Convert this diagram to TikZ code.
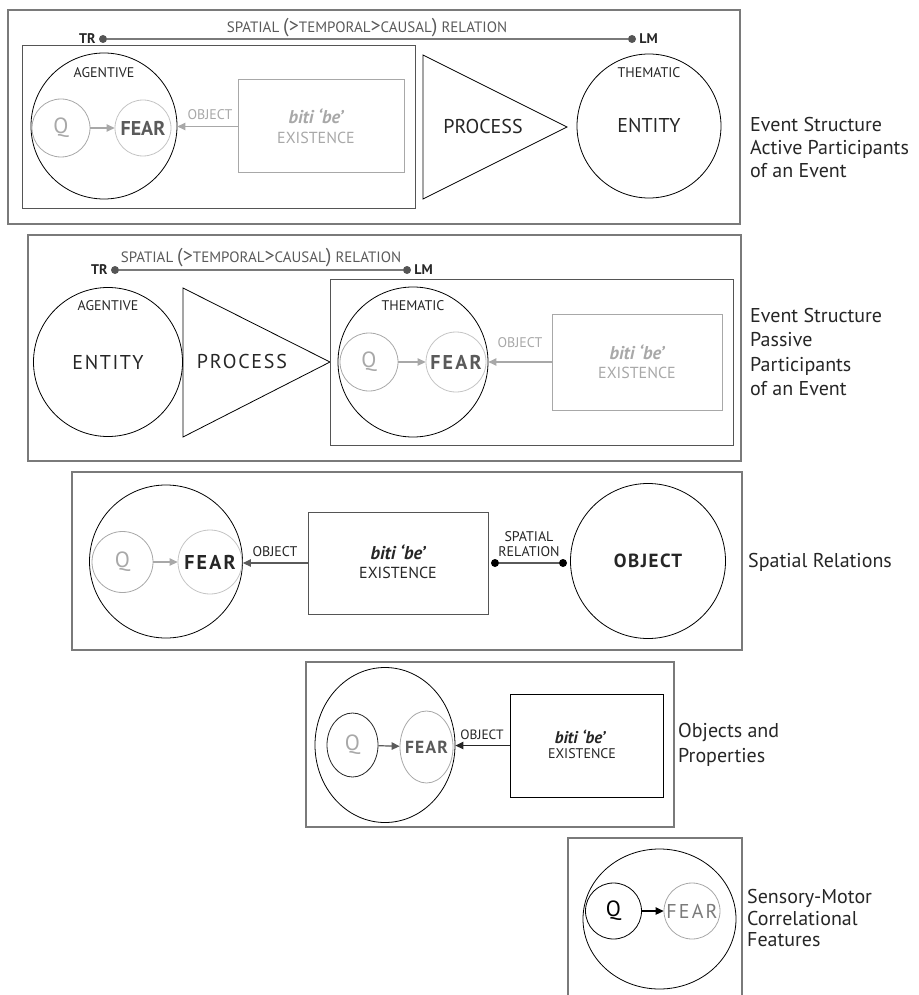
\documentclass[tikz,border=0pt]{standalone}
\usepackage{fontspec}
\setmainfont{PT Sans}
\usetikzlibrary{arrows.meta,shapes.geometric}

\definecolor{framecol}{HTML}{7A7A7A}
\definecolor{inboxcol}{HTML}{555555}
\definecolor{ink}{HTML}{262626}
\definecolor{pale}{HTML}{A8A8A8}
\definecolor{paler}{HTML}{C4C4C4}
\definecolor{mid}{HTML}{5A5A5A}
\definecolor{dotcol}{HTML}{555555}

\newcommand\fsside{\fontsize{20}{23}\selectfont}
\newcommand\fsbig{\fontsize{20}{24}\selectfont}
\newcommand\fsq{\fontsize{22}{24}\selectfont}
\newcommand\fsbiti{\fontsize{18.5}{22}\selectfont\bfseries\itshape}
\newcommand\fsexist{\fontsize{16}{19}\selectfont}
\newcommand\fssmall{\fontsize{14}{17}\selectfont}
\newcommand\fsrel{\fontsize{15}{17}\selectfont}
\newcommand\spaced{\addfontfeatures{LetterSpace=11}}
\newcommand\bigp[1]{{\fontsize{20}{17}\selectfont #1}}
\newcommand\relation{SPATIAL \bigp{(}\bigp{>}TEMPORAL\bigp{>}CAUSAL\bigp{)} RELATION}

\tikzset{
  frame/.style={draw=framecol, line width=1.1pt},
  inbox/.style={draw=inboxcol, line width=1pt},
  ring/.style={circle, draw=black, line width=0.8pt, inner sep=0pt},
  oval/.style={ellipse, draw=black, line width=0.8pt, inner sep=0pt},
  txt/.style={inner sep=0pt, text=ink},
  side/.style={inner sep=0pt, text=ink, align=left, anchor=west},
  dotmark/.style={circle, fill=dotcol, inner sep=0pt, minimum size=8pt},
  bdot/.style={circle, fill=black, inner sep=0pt, minimum size=8pt},
  relline/.style={draw=framecol, line width=1.2pt},
  arr/.style={-{Triangle[length=8pt,width=7.5pt]}, line width=1.2pt},
  tri/.style={draw=black, line width=0.8pt, line join=miter},
}

\begin{document}
\begin{tikzpicture}[x=1pt, y=-1pt]
\useasboundingbox (0,0) rectangle (918,995);

% ---------------- Active participants ----------------
\draw[frame] (8,10) rectangle (740,224);
\node[txt, text=mid, font=\fsrel] (rel1) at (367,28) {\relation};
\node[dotmark] (tr1) at (103,39) {};
\node[dotmark] (lm1) at (632,39) {};
\draw[relline] (tr1) -- (lm1);
\node[txt, font=\fssmall\bfseries, anchor=east] (trl1) at ([xshift=-3pt]tr1.west) {TR};
\node[txt, font=\fssmall\bfseries, anchor=west] (lml1) at ([xshift=3pt]lm1.east) {LM};

\draw[inbox] (22,46) rectangle (415,208);
\node[ring, minimum size=146pt] (ag1) at (104,126) {};
\node[txt, font=\fssmall] (agl1) at (104,73) {AGENTIVE};
\node[ring, draw=pale, minimum size=58pt,
  label={[txt, text=pale, font=\fsq]center:Q}] (q1) at (61,128) {};
\node[ring, draw=paler, minimum size=56pt,
  label={[txt, text=mid, font=\fsbig\bfseries]center:FEAR}] (f1) at (143,128) {};
\draw[arr, draw=pale, fill=pale] (q1) -- (f1);
\node[draw=pale, line width=1pt, minimum width=166pt, minimum height=93pt, inner sep=0pt] (b1) at (321,126.5) {};
\node[txt, text=pale, font=\fsbiti] (bt1) at (316,116) {biti ‘be’};
\node[txt, text=pale, font=\fsexist] (be1) at (316,138) {EXISTENCE};
\node[txt, text=pale, font=\fssmall] (ob1) at (210,115) {OBJECT};
\draw[arr, draw=pale, fill=pale] (b1.west) -- (b1.west -| ag1.east);

\coordinate (p1a) at (423,55);
\coordinate (p1b) at (423,199);
\coordinate (p1c) at (567,127);
\draw[tri] (p1a) -- (p1c) -- (p1b) -- cycle;
\node[txt, font=\fsbig] (pr1) at (483,127) {PROCESS};
\node[ring, minimum size=144pt, font=\fsbig, text=ink] (th1) at (649,126) {ENTITY};
\node[txt, font=\fssmall] (thl1) at (649,73) {THEMATIC};
\node[side, font=\fsside] (s1) at (750,148) {Event Structure\\Active Participants\\of an Event};

% ---------------- Passive participants ----------------
\draw[frame] (28,235) rectangle (741,461);
\node[txt, text=mid, font=\fsrel] (rel2) at (261,258) {\relation};
\node[dotmark] (tr2) at (115,270) {};
\node[dotmark] (lm2) at (407,270) {};
\draw[relline] (tr2) -- (lm2);
\node[txt, font=\fssmall\bfseries, anchor=east] (trl2) at ([xshift=-3pt]tr2.west) {TR};
\node[txt, font=\fssmall\bfseries, anchor=west] (lml2) at ([xshift=3pt]lm2.east) {LM};

\node[ring, minimum size=149pt, font=\fsbig\addfontfeatures{LetterSpace=8}, text=ink] (ag2) at (108,362) {ENTITY};
\node[txt, font=\fssmall] (agl2) at (108,306) {AGENTIVE};
\coordinate (p2a) at (183,288);
\coordinate (p2b) at (183,437);
\coordinate (p2c) at (330,362);
\draw[tri] (p2a) -- (p2c) -- (p2b) -- cycle;
\node[txt, font=\fsbig\addfontfeatures{LetterSpace=9}] (pr2) at (242,361) {PROCESS};

\draw[inbox] (330,279) rectangle (733,445);
\node[ring, minimum size=150pt] (th2) at (413,362) {};
\node[txt, font=\fssmall] (thl2) at (413,306) {THEMATIC};
\node[ring, draw=pale, minimum size=58pt,
  label={[txt, text=pale, font=\fsq]center:Q}] (q2) at (369,362) {};
\node[ring, draw=paler, minimum size=60pt,
  label={[txt, text=mid, font=\fsbig\bfseries\spaced]center:FEAR}] (f2) at (456,362) {};
\draw[arr, draw=pale, fill=pale] (q2) -- (f2);
\node[draw=pale, line width=1pt, minimum width=170pt, minimum height=96pt, inner sep=0pt] (b2) at (637,362) {};
\node[txt, text=pale, font=\fsbiti] (bt2) at (637,352) {biti ‘be’};
\node[txt, text=pale, font=\fsexist] (be2) at (637,373) {EXISTENCE};
\node[txt, text=pale, font=\fssmall] (ob2) at (520,343) {OBJECT};
\draw[arr, draw=pale, fill=pale] (b2.west) -- (b2.west -| th2.east);
\node[side, font=\fontsize{20}{24.5}\selectfont] (s2) at (750,352) {Event Structure\\Passive\\Participants\\of an Event};

% ---------------- Spatial relations ----------------
\draw[frame] (72,472) rectangle (742,650);
\node[ring, minimum size=153pt] (c3) at (166,561.5) {};
\node[ring, draw=pale, minimum size=61pt,
  label={[txt, text=pale, font=\fsq]center:Q}] (q3) at (122.5,562) {};
\node[ring, draw=paler, minimum size=64pt,
  label={[txt, text=ink, font=\fsbig\bfseries\spaced]center:FEAR}] (f3) at (210,562) {};
\draw[arr, draw=pale, fill=pale] (q3) -- (f3);
\node[draw=inboxcol, line width=1pt, minimum width=180pt, minimum height=102pt, inner sep=0pt] (b3) at (398,563) {};
\node[txt, font=\fsbiti] (bt3) at (398,552) {biti ‘be’};
\node[txt, font=\fsexist] (be3) at (398,573) {EXISTENCE};
\node[txt, font=\fssmall] (ob3) at (275,552) {OBJECT};
\draw[arr, draw=mid, fill=mid] (b3.west) -- (b3.west -| c3.east);
\node[bdot] (sd1) at (495,563) {};
\node[bdot] (sd2) at (563,563) {};
\draw[draw=mid, line width=1.4pt] (sd1) -- (sd2);
\node[txt, font=\fssmall, align=center] (sr3) at (529,544) {SPATIAL\\[-2pt]RELATION};
\node[ring, minimum size=155pt, font=\fontsize{19}{24}\selectfont\bfseries\addfontfeatures{LetterSpace=8}, text=ink] (o3) at (648,561) {OBJECT};
\node[side, font=\fsside] (s3) at (748,562) {Spatial Relations};

% ---------------- Objects and properties ----------------
\draw[frame] (306,662) rectangle (674,827);
\node[oval, minimum width=140pt, minimum height=155pt] (e4) at (385,745) {};
\node[oval, draw=ink, minimum width=51pt, minimum height=64pt,
  label={[txt, text=pale, font=\fsq]center:Q}] (q4) at (352.5,745) {};
\node[oval, draw=pale, minimum width=53pt, minimum height=72pt,
  label={[txt, text=mid, font=\fontsize{17.5}{20}\selectfont\bfseries\addfontfeatures{LetterSpace=7}]center:FEAR}] (f4) at (426.5,747) {};
\draw[arr, draw=mid, fill=mid] (q4) -- (f4);
\node[draw=black, line width=1pt, minimum width=153pt, minimum height=103pt, inner sep=0pt] (b4) at (586.5,745.5) {};
\node[txt, font=\fontsize{17}{20}\selectfont\bfseries\itshape] (bt4) at (580,737) {biti ‘be’};
\node[txt, font=\fontsize{14}{17}\selectfont] (be4) at (582,754) {EXISTENCE};
\node[txt, font=\fontsize{13.5}{16}\selectfont] (ob4) at (482,735) {OBJECT};
\draw[arr, draw=ink, fill=ink] (b4.west) -- (b4.west -| e4.east);
\node[side, font=\fontsize{20}{25}\selectfont] (s4) at (678,745) {Objects and\\Properties};

% ---------------- Sensory-motor features ----------------
\draw[frame] (568,995) -- (568,838) -- (742,838) -- (742,995);
\node[oval, minimum width=153pt, minimum height=140pt] (e5) at (659.5,919) {};
\node[ring, minimum size=56pt,
  label={[txt, text=black, font=\fsq]center:Q}] (q5) at (613.5,911) {};
\node[ring, draw=pale, minimum size=56pt,
  label={[txt, text=framecol, font=\fsbig\spaced]center:FEAR}] (f5) at (692,911) {};
\draw[arr, draw=black, fill=black] (q5) -- (f5);
\node[side, font=\fontsize{20}{21.5}\selectfont] (s5) at (747,918) {Sensory-Motor\\Correlational\\Features};
\end{tikzpicture}
\end{document}
